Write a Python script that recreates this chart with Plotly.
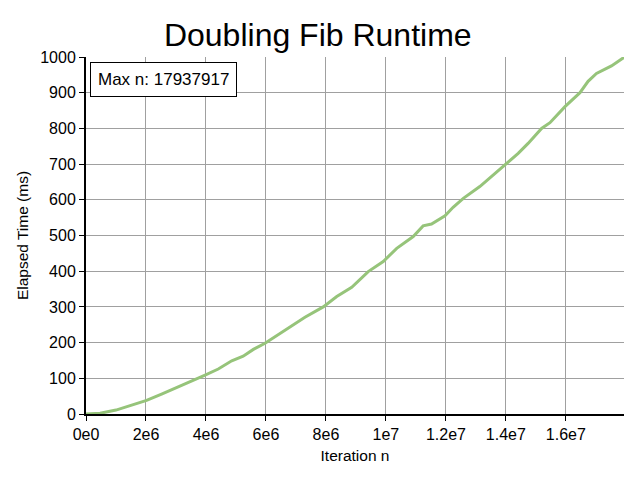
import plotly.graph_objects as go

# iteration n vs elapsed time (ms)
iteration_n = [0, 0.47e6, 1.0e6, 1.58e6, 2.02e6, 2.52e6, 3.08e6, 3.52e6, 3.97e6, 4.41e6,
               4.86e6, 5.24e6, 5.58e6, 5.97e6, 6.47e6, 7.3e6, 7.91e6, 8.36e6, 8.86e6,
               9.41e6, 9.91e6, 10.36e6, 10.91e6, 11.24e6, 11.52e6, 11.97e6, 12.24e6,
               12.58e6, 13.13e6, 13.58e6, 13.97e6, 14.41e6, 14.74e6, 15.19e6, 15.47e6,
               15.97e6, 16.47e6, 16.74e6, 17.02e6, 17.52e6, 17937917]
elapsed_ms = [0, 2, 11, 26, 38, 56, 76, 93, 109, 126,
              149, 162, 181, 198, 226, 271, 300, 329, 355,
              399, 427, 464, 497, 527, 532, 555, 579,
              604, 637, 669, 697, 730, 758, 800, 816,
              861, 900, 932, 954, 975, 999]

max_n = 17937917
x_tickvals = [0, 2e6, 4e6, 6e6, 8e6, 1e7, 1.2e7, 1.4e7, 1.6e7]
x_ticktext = ["0e0", "2e6", "4e6", "6e6", "8e6", "1e7", "1.2e7", "1.4e7", "1.6e7"]

fig = go.Figure()
fig.add_trace(go.Scatter(
    x=iteration_n, y=elapsed_ms, mode="lines",
    line=dict(color="#96c47a", width=3),
    showlegend=False,
))

axis_style = dict(
    showgrid=True, gridcolor="#a0a0a0", gridwidth=1,
    showline=True, linecolor="black", linewidth=2,
    ticks="outside", ticklen=5, tickcolor="black",
    tickfont=dict(size=16, color="black"),
    zeroline=False,
)

# the page body has an 8px margin, so margins are shifted to compensate
fig.update_layout(
    width=640, height=480,
    margin=dict(l=78, r=24, t=49, b=74),
    paper_bgcolor="white", plot_bgcolor="white",
    font=dict(family="Liberation Sans, Arial, sans-serif", color="black"),
    title=dict(text="Doubling Fib Runtime", x=0.484, xanchor="center",
               y=0.944, yanchor="middle", font=dict(size=32, color="black")),
    xaxis=dict(axis_style, range=[0, max_n], tickvals=x_tickvals, ticktext=x_ticktext,
               title=dict(text="Iteration n", font=dict(size=15.5), standoff=8)),
    yaxis=dict(axis_style, range=[0, 1000], dtick=100,
               title=dict(text="Elapsed Time (ms)", font=dict(size=15.5), standoff=8)),
)

fig.add_annotation(
    text="Max n: " + str(max_n),
    xref="paper", yref="paper", x=0.0075, y=0.986,
    xanchor="left", yanchor="top", showarrow=False,
    font=dict(size=17, color="black"),
    bgcolor="white", bordercolor="black", borderwidth=1, borderpad=7,
)

fig.write_html("out.html")
